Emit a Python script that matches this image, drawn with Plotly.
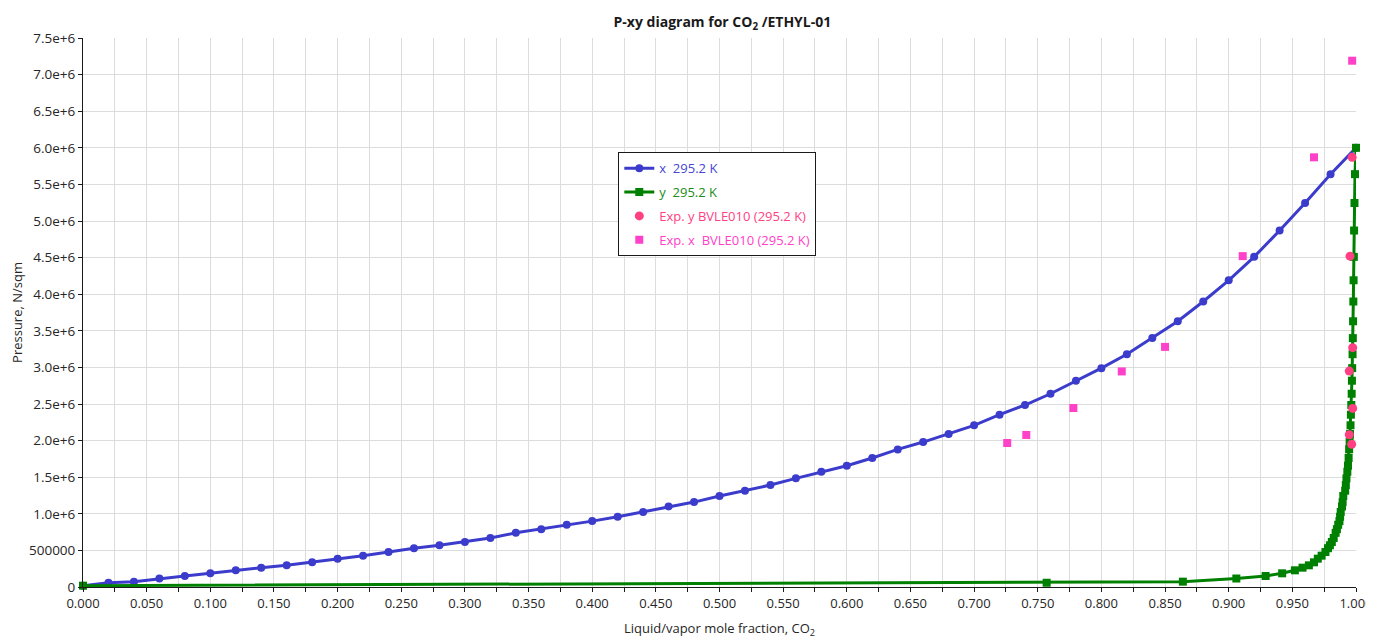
import plotly.graph_objects as go

# ---- data ----
x_liq = [0.00, 0.02, 0.04, 0.06, 0.08, 0.10, 0.12, 0.14, 0.16, 0.18, 0.20,
         0.22, 0.24, 0.26, 0.28, 0.30, 0.32, 0.34, 0.36, 0.38, 0.40,
         0.42, 0.44, 0.46, 0.48, 0.50, 0.52, 0.54, 0.56, 0.58, 0.60,
         0.62, 0.64, 0.66, 0.68, 0.70, 0.72, 0.74, 0.76, 0.78, 0.80,
         0.82, 0.84, 0.86, 0.88, 0.90, 0.92, 0.94, 0.96, 0.98, 1.00]
pressure = [0.018e6, 0.058e6, 0.073e6, 0.116e6, 0.150e6, 0.187e6, 0.228e6, 0.264e6, 0.296e6, 0.337e6, 0.387e6,
            0.428e6, 0.478e6, 0.530e6, 0.570e6, 0.615e6, 0.670e6, 0.740e6, 0.790e6, 0.850e6, 0.900e6,
            0.960e6, 1.025e6, 1.100e6, 1.160e6, 1.243e6, 1.316e6, 1.393e6, 1.484e6, 1.575e6, 1.657e6,
            1.762e6, 1.880e6, 1.980e6, 2.090e6, 2.209e6, 2.354e6, 2.486e6, 2.640e6, 2.818e6, 2.990e6,
            3.180e6, 3.400e6, 3.630e6, 3.900e6, 4.190e6, 4.510e6, 4.870e6, 5.246e6, 5.640e6, 6.000e6]
y_vap = [0.0, 0.757, 0.864, 0.906, 0.929, 0.942, 0.952, 0.958, 0.963, 0.967, 0.970,
         0.973, 0.976, 0.978, 0.9795, 0.981, 0.9825, 0.984, 0.985, 0.986, 0.987,
         0.9875, 0.988, 0.989, 0.9895, 0.990, 0.9915, 0.992, 0.9925, 0.9932, 0.9937,
         0.9942, 0.9946, 0.9950, 0.9953, 0.9957, 0.9960, 0.9963, 0.9966, 0.9968, 0.9970,
         0.9973, 0.9975, 0.9977, 0.9979, 0.9981, 0.9983, 0.9985, 0.9988, 0.9992, 1.000]

exp_x_frac = [0.726, 0.741, 0.778, 0.816, 0.850, 0.911, 0.967, 0.997]
exp_x_p = [1.967e6, 2.077e6, 2.445e6, 2.945e6, 3.280e6, 4.520e6, 5.870e6, 7.190e6]

exp_y_frac = [0.9966, 0.9947, 0.9974, 0.9947, 0.9974, 0.9953, 0.9970]
exp_y_p = [1.950e6, 2.080e6, 2.440e6, 2.950e6, 3.270e6, 4.520e6, 5.870e6]

x_tick_vals = [i * 0.025 for i in range(41)]
x_tick_text = [("%.3f" % v) if i % 2 == 0 else "" for i, v in enumerate(x_tick_vals)]
y_tick_vals = [i * 0.5e6 for i in range(16)]
y_tick_text = ["0", "500000", "1.0e+6", "1.5e+6", "2.0e+6", "2.5e+6", "3.0e+6", "3.5e+6",
               "4.0e+6", "4.5e+6", "5.0e+6", "5.5e+6", "6.0e+6", "6.5e+6", "7.0e+6", "7.5e+6"]

BLUE = "#3c3ccc"
GREEN = "#008000"
PINK = "#ff4083"
MAGENTA = "#ff40c8"

fig = go.Figure()
fig.add_trace(go.Scatter(
    x=x_liq, y=pressure, mode="lines+markers",
    name="<span style='color:%s'>x  295.2 K</span>" % "#4646d2",
    line=dict(color=BLUE, width=3), marker=dict(color=BLUE, size=8, symbol="circle"),
    cliponaxis=False, legendgroup="a"))
fig.add_trace(go.Scatter(
    x=y_vap, y=pressure, mode="lines+markers",
    name="<span style='color:%s'>y  295.2 K</span>" % "#1a8c1a",
    line=dict(color=GREEN, width=3), marker=dict(color=GREEN, size=8, symbol="square"),
    cliponaxis=False, legendgroup="b"))
fig.add_trace(go.Scatter(
    x=exp_y_frac, y=exp_y_p, mode="markers",
    name="<span style='color:%s'>Exp. y BVLE010 (295.2 K)</span>" % PINK,
    marker=dict(color=PINK, size=9, symbol="circle"),
    cliponaxis=False, legendgroup="c"))
fig.add_trace(go.Scatter(
    x=exp_x_frac, y=exp_x_p, mode="markers",
    name="<span style='color:%s'>Exp. x  BVLE010 (295.2 K)</span>" % MAGENTA,
    marker=dict(color=MAGENTA, size=8, symbol="square"),
    cliponaxis=False, legendgroup="d"))

fig.update_layout(
    width=1366, height=631,
    margin=dict(l=75, r=18, t=30, b=52, autoexpand=False),
    paper_bgcolor="white", plot_bgcolor="white",
    font=dict(family="Open Sans, Noto Sans, sans-serif", size=12, color="#262626"),
    title=dict(text="<b>P-xy diagram for CO<sub>2</sub> /ETHYL-01</b>",
               x=0.523, xanchor="center", y=0.978, yanchor="middle", yref="container",
               automargin=False,
               font=dict(size=14, color="#1a1a1a")),
    showlegend=True,
    legend=dict(x=0.4205, xanchor="left", y=0.792, yanchor="top",
                bgcolor="white", bordercolor="#1a1a1a", borderwidth=1,
                font=dict(size=13), traceorder="grouped", tracegroupgap=4,
                itemwidth=30),
)
fig.update_xaxes(
    range=[0, 1], tickvals=x_tick_vals, ticktext=x_tick_text,
    showgrid=True, gridcolor="#dcdcdc", gridwidth=1,
    showline=True, linecolor="#1a1a1a", linewidth=1,
    ticks="outside", ticklen=4, tickcolor="#1a1a1a",
    zeroline=False, tickfont=dict(size=13), automargin=False,
    title=dict(text="Liquid/vapor mole fraction, CO<sub>2</sub>", font=dict(size=13), standoff=14),
)
fig.update_yaxes(
    range=[0, 7.5e6], tickvals=y_tick_vals, ticktext=y_tick_text,
    showgrid=True, gridcolor="#dcdcdc", gridwidth=1,
    showline=True, linecolor="#1a1a1a", linewidth=1,
    ticks="outside", ticklen=4, tickcolor="#1a1a1a",
    zeroline=False, tickfont=dict(size=13.5), automargin=False,
    title=dict(text="Pressure, N/sqm", font=dict(size=13), standoff=8),
)

fig.write_html("out.html")
